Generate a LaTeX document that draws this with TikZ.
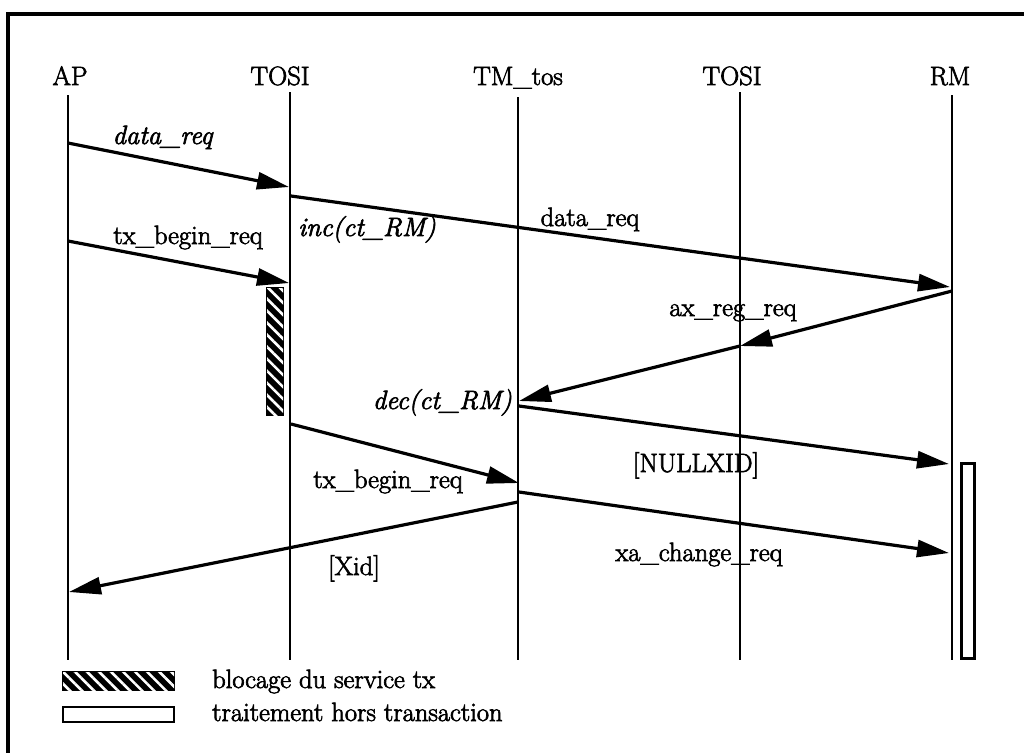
\documentclass[tikz,border=0pt]{standalone}
\usepackage{fontspec}
\setmainfont{Latin Modern Roman}[FakeBold=2.5]
\usetikzlibrary{arrows.meta,patterns.meta}
\begin{document}
\begin{tikzpicture}[x=1pt,y=-1pt,
  every node/.style={inner sep=0pt, font=\fontsize{26.5}{30}\selectfont},
  lbl/.style={anchor=base},
  lblw/.style={anchor=base west},
  lble/.style={anchor=base east},
  head/.style={anchor=base},
  life/.style={line width=2.4pt},
  frame/.style={line width=3.5pt},
  msg/.style={line width=3.2pt, -{Triangle[length=32pt,width=17pt]}},
  hatchbox/.style={draw, line width=1.8pt, fill=black, postaction={pattern={Lines[angle=-45,distance=8.5pt,line width=2.6pt]}, pattern color=white}},
  whitebox/.style={draw, line width=2.2pt, fill=white}
]
\useasboundingbox (0,0) rectangle (1024,753);
% frame
\coordinate (fTL) at (8,14);
\coordinate (fTR) at (1024,14);
\coordinate (fBL) at (8,753);
\draw[frame] (fTR) -- (fTL) -- (fBL);

% headers
\node[head] (hAP) at (70,85) {AP};
\node[head] (hT1) at (280,85) {TOSI};
\node[head] (hTM) at (518,85) {TM\_tos};
\node[head] (hT2) at (732,85) {TOSI};
\node[head] (hRM) at (950,85) {RM};

% lifelines
\coordinate (APt) at (68,95);  \coordinate (APb) at (68,660);
\coordinate (T1t) at (290,92); \coordinate (T1b) at (290,660);
\coordinate (TMt) at (518,97); \coordinate (TMb) at (518,660);
\coordinate (T2t) at (740,92); \coordinate (T2b) at (740,660);
\coordinate (RMt) at (952,95); \coordinate (RMb) at (952,660);
\draw[life] (APt) -- (APb);
\draw[life] (T1t) -- (T1b);
\draw[life] (TMt) -- (TMb);
\draw[life] (T2t) -- (T2b);
\draw[life] (RMt) -- (RMb);

% boxes
\node[hatchbox, minimum width=16pt, minimum height=127pt] (blk) at (275,351.5) {};
\node[whitebox, minimum width=13pt, minimum height=195pt] (ntx) at (968,561) {};

% messages
\coordinate (m1s) at (68,143);  \coordinate (m1e) at (289,187);
\draw[msg] (m1s) -- (m1e);
\node[lbl] (l1) at (163,144) {\textit{data\_req}};

\coordinate (m2s) at (291,196); \coordinate (m2e) at (950,287);
\draw[msg] (m2s) -- (m2e);
\node[lbl] (l2) at (590,226) {data\_req};
\node[lbl] (l2b) at (367,236) {\textit{inc(ct\_RM)}};

\coordinate (m3s) at (68,241);  \coordinate (m3e) at (289,283);
\draw[msg] (m3s) -- (m3e);
\node[lbl] (l3) at (188,244) {tx\_begin\_req};

\coordinate (m4s) at (952,291); \coordinate (m4m) at (740,346); \coordinate (m4e) at (519,401);
\draw[msg] (m4s) -- (m4m);
\draw[msg] (m4m) -- (m4e);
\node[lbl] (l4) at (733,316) {ax\_reg\_req};
\node[lble] (l4b) at (512,409) {\textit{dec(ct\_RM)}};

\coordinate (m5s) at (519,406); \coordinate (m5e) at (949,464);
\draw[msg] (m5s) -- (m5e);
\node[lbl] (l5) at (696,472) {[NULLXID]};

\coordinate (m6s) at (291,424); \coordinate (m6e) at (519,483);
\draw[msg] (m6s) -- (m6e);
\node[lbl] (l6) at (388,488) {tx\_begin\_req};

\coordinate (m7s) at (519,492); \coordinate (m7e) at (949,553);
\draw[msg] (m7s) -- (m7e);
\node[lbl] (l7) at (699,561) {xa\_change\_req};

\coordinate (m8s) at (518,502); \coordinate (m8e) at (69,592);
\draw[msg] (m8s) -- (m8e);
\node[lbl] (l8) at (354,575) {[Xid]};

% legend
\node[hatchbox, minimum width=111pt, minimum height=18pt] (lg1) at (118.5,681) {};
\node[lblw] (lt1) at (212,688) {blocage du service tx};
\node[whitebox, minimum width=111pt, minimum height=15pt] (lg2) at (118.5,714.5) {};
\node[lblw] (lt2) at (212,721) {traitement hors transaction};
\end{tikzpicture}
\end{document}
